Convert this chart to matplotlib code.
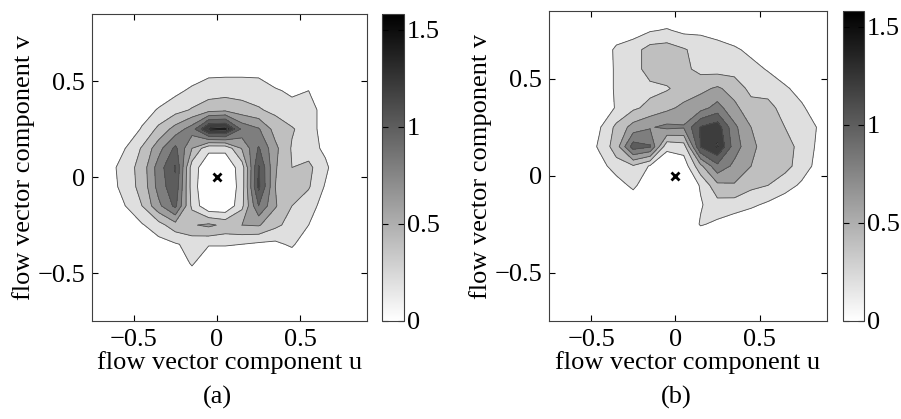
import numpy as np
import matplotlib.pyplot as plt
from matplotlib.colors import LinearSegmentedColormap, Normalize
from matplotlib.cm import ScalarMappable

plt.rcParams['font.family'] = ['Liberation Serif', 'DejaVu Serif']
plt.rcParams['font.size'] = 19

# bin centres of the flow vector histogram, panel (a)
u_a = [-0.65, -0.55, -0.45, -0.35, -0.25, -0.15, -0.05, 0.05, 0.15, 0.25, 0.35, 0.45, 0.55, 0.65, 0.75]
v_a = [0.55, 0.45, 0.35, 0.25, 0.15, 0.05, -0.05, -0.15, -0.25, -0.35, -0.45, -0.55]
density_a = [
    [0, 0, 0, 0, 0.02, 0.08, 0.15, 0.15, 0.15, 0.15, 0.08, 0.05, 0.08, 0, 0],
    [0, 0, 0, 0.06, 0.15, 0.24, 0.30, 0.32, 0.32, 0.30, 0.22, 0.17, 0.20, 0.06, 0],
    [0, 0, 0.10, 0.22, 0.32, 0.42, 0.52, 0.55, 0.48, 0.42, 0.35, 0.26, 0.28, 0.12, 0],
    [0, 0.05, 0.22, 0.45, 0.68, 0.90, 1.45, 1.50, 0.95, 0.82, 0.52, 0.42, 0.30, 0.10, 0],
    [0.02, 0.20, 0.42, 0.72, 1.05, 0.60, 0.25, 0.25, 0.62, 1.02, 0.65, 0.38, 0.30, 0.15, 0],
    [0.12, 0.30, 0.48, 0.90, 1.22, 0.30, 0.05, 0.05, 0.30, 1.22, 0.62, 0.40, 0.45, 0.25, 0],
    [0.08, 0.30, 0.46, 0.88, 1.15, 0.30, 0.00, 0.00, 0.30, 1.25, 0.60, 0.45, 0.42, 0.18, 0],
    [0, 0.20, 0.40, 0.75, 1.05, 0.35, 0.02, 0.02, 0.35, 1.00, 0.62, 0.40, 0.28, 0.12, 0],
    [0, 0.02, 0.18, 0.32, 0.52, 0.58, 0.64, 0.55, 0.60, 0.62, 0.45, 0.32, 0.20, 0.02, 0],
    [0, 0, 0, 0.12, 0.18, 0.26, 0.22, 0.22, 0.20, 0.16, 0.15, 0.24, 0.02, 0, 0],
    [0, 0, 0, 0, 0, 0.23, 0, 0, 0, 0, 0, 0, 0, 0, 0],
    [0, 0, 0, 0, 0, 0, 0, 0, 0, 0, 0, 0, 0, 0, 0],
]

# panel (b)
u_b = [-0.55, -0.45, -0.35, -0.25, -0.15, -0.05, 0.05, 0.15, 0.25, 0.35, 0.45, 0.55, 0.65, 0.75, 0.85, 0.95]
v_b = [0.85, 0.75, 0.65, 0.55, 0.45, 0.35, 0.25, 0.15, 0.05, -0.05, -0.15, -0.25, -0.35]
density_b = [
    [0, 0, 0, 0, 0, 0, 0, 0, 0, 0, 0, 0, 0, 0, 0, 0],
    [0, 0, 0.04, 0.10, 0.18, 0.22, 0.15, 0.16, 0.10, 0.03, 0, 0, 0, 0, 0, 0],
    [0, 0.02, 0.25, 0.32, 0.48, 0.50, 0.42, 0.32, 0.30, 0.24, 0.14, 0.02, 0, 0, 0, 0],
    [0, 0.02, 0.24, 0.30, 0.50, 0.52, 0.45, 0.34, 0.32, 0.32, 0.28, 0.18, 0.04, 0, 0, 0],
    [0, 0.02, 0.24, 0.32, 0.34, 0.38, 0.48, 0.55, 0.63, 0.52, 0.34, 0.34, 0.24, 0.10, 0, 0],
    [0, 0.05, 0.22, 0.36, 0.46, 0.55, 0.65, 0.72, 0.88, 0.65, 0.48, 0.45, 0.34, 0.24, 0.05, 0],
    [0, 0.18, 0.45, 0.68, 0.78, 0.85, 0.82, 1.22, 1.32, 0.85, 0.60, 0.48, 0.40, 0.34, 0.18, 0],
    [0, 0.24, 0.50, 1.10, 1.02, 0.25, 0.30, 1.22, 1.42, 0.90, 0.65, 0.50, 0.45, 0.36, 0.15, 0],
    [0, 0.10, 0.32, 0.38, 0.18, 0.05, 0.08, 0.55, 0.95, 0.75, 0.60, 0.48, 0.46, 0.32, 0.12, 0],
    [0, 0, 0.08, 0.26, 0, 0, 0, 0.22, 0.55, 0.58, 0.45, 0.40, 0.30, 0.16, 0, 0],
    [0, 0, 0, 0, 0, 0, 0, 0.18, 0.32, 0.30, 0.24, 0.16, 0.06, 0, 0, 0],
    [0, 0, 0, 0, 0, 0, 0, 0.22, 0.16, 0.08, 0.02, 0, 0, 0, 0, 0],
    [0, 0, 0, 0, 0, 0, 0, 0, 0, 0, 0, 0, 0, 0, 0, 0],
]

levels = [0, 0.2, 0.4, 0.6, 0.8, 1.0, 1.2, 1.4, 1.6]
axis_ticks = [-0.5, 0, 0.5]
cbar_ticks = [0, 0.5, 1, 1.5]
vmax = 1.58

cmap = LinearSegmentedColormap.from_list('wk', ['white', 'black'])
norm = Normalize(0, vmax)
# matlab style: each band gets the colour of its lower level
band_colors = [cmap(norm(l)) for l in levels[:-1]]


def panel(fig, ax_rect, cax_rect, u, v, z, caption, cap_x):
    ax = fig.add_axes(ax_rect)
    U, V = np.meshgrid(u, v)
    Z = np.array(z)
    ax.contourf(U, V, Z, levels=levels, colors=band_colors)
    ax.contour(U, V, Z, levels=levels[1:-1], colors='0.3', linewidths=0.6)
    ax.plot(0, 0, 'x', color='black', ms=6, mew=2)
    ax.set_xlim(-0.75, 0.9)
    ax.set_ylim(-0.75, 0.85)
    ax.set_xticks(axis_ticks)
    ax.set_yticks(axis_ticks)
    ax.set_xticklabels(['\u22120.5', '0', '0.5'])
    ax.set_yticklabels(['\u22120.5', '0', '0.5'])
    ax.tick_params(direction='in', top=True, right=True, length=4, width=0.8)
    ax.tick_params(axis='x', pad=6)
    ax.tick_params(axis='y', pad=5)
    ax.set_xlabel('flow vector component u', labelpad=0)
    ax.set_ylabel('flow vector component v', labelpad=2)
    for s in ax.spines.values():
        s.set_color('0.25')
        s.set_linewidth(0.8)

    cax = fig.add_axes(cax_rect)
    cb = fig.colorbar(ScalarMappable(norm=norm, cmap=cmap), cax=cax)
    cb.set_ticks(cbar_ticks)
    cb.set_ticklabels(['0', '0.5', '1', '1.5'])
    cax.tick_params(direction='in', left=True, right=True, length=4, width=0.8, pad=2)
    cb.outline.set_edgecolor('0.25')
    cb.outline.set_linewidth(0.8)

    fig.text(cap_x, 0.052, caption, ha='center', va='center')


fig = plt.figure(figsize=(9.01, 4.19), dpi=100)
panel(fig, [0.1021, 0.2339, 0.3052, 0.7327], [0.424, 0.2339, 0.0244, 0.7327],
      u_a, v_a, density_a, '(a)', 0.2408)
panel(fig, [0.6093, 0.2339, 0.3085, 0.7399], [0.9356, 0.2339, 0.0233, 0.7399],
      u_b, v_b, density_b, '(b)', 0.7503)

fig.savefig('out.png', dpi=100)
